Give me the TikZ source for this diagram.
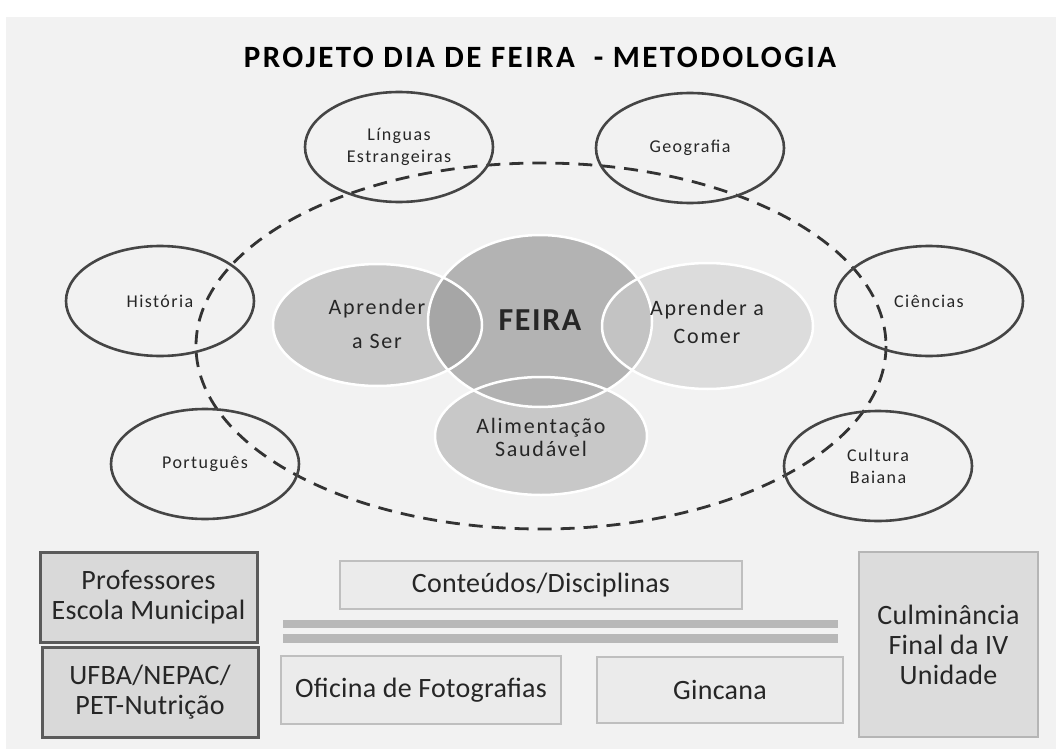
\documentclass[tikz,border=0pt]{standalone}
\usepackage{fontspec}
\setmainfont{Carlito}
\usetikzlibrary{shapes.geometric}
\definecolor{panel}{HTML}{F2F2F2}
\definecolor{txt}{HTML}{262626}
\definecolor{ring}{HTML}{454545}
\definecolor{dashc}{HTML}{333333}
\definecolor{serfill}{HTML}{C8C8C8}
\definecolor{feirafill}{HTML}{B3B3B3}
\definecolor{comerfill}{HTML}{DCDCDC}
\definecolor{alimfill}{HTML}{C8C8C8}
\definecolor{overser}{HTML}{A6A6A6}
\definecolor{overcomer}{HTML}{C3C3C3}
\definecolor{overalim}{HTML}{B1B1B1}
\definecolor{darkfill}{HTML}{D9D9D9}
\definecolor{darkline}{HTML}{5A5A5A}
\definecolor{lightfill}{HTML}{EBEBEB}
\definecolor{lightline}{HTML}{BFBFBF}
\definecolor{culmfill}{HTML}{DCDCDC}
\definecolor{culmline}{HTML}{B5B5B5}
\definecolor{bargray}{HTML}{B8B8B8}
\begin{document}
\begin{tikzpicture}[x=1pt,y=-1pt,
  subj/.style={ellipse, draw=ring, line width=2.6pt, inner sep=0pt,
    minimum width=188pt, minimum height=110pt, align=center, text=txt,
    font=\fontsize{18}{22}\selectfont\addfontfeature{LetterSpace=8}},
  venntext/.style={align=center, text=txt,
    font=\fontsize{22}{23}\selectfont\addfontfeature{LetterSpace=8}},
  boxfont/.style={align=center, text=txt, inner sep=0pt,
    font=\fontsize{28}{30}\selectfont\addfontfeature{LetterSpace=1}},
  darkbox/.style={boxfont, draw=darkline, fill=darkfill, line width=3pt},
  lightbox/.style={boxfont, draw=lightline, fill=lightfill, line width=2.5pt},
  culmbox/.style={boxfont, draw=culmline, fill=culmfill, line width=2.5pt},
  vennline/.style={draw=white, line width=2.5pt}
]
\useasboundingbox (0,0) rectangle (1060,749);
\fill[panel] (6,17) rectangle (1056,749);

% title
\node[font=\bfseries\fontsize{31}{34}\selectfont\addfontfeature{LetterSpace=8}, text=black] (title) at (540,57)
  {PROJETO DIA DE FEIRA\ \ - METODOLOGIA};

% dashed ring
\draw[dashc, line width=2.8pt, dash pattern=on 14pt off 9pt]
  (541,346) ellipse [x radius=345, y radius=183];

% subject ellipses
\node[subj] (linguas) at (399,147) {Línguas\\Estrangeiras};
\node[subj] (geo) at (690,148) {Geografia};
\node[subj] (hist) at (160,301) {História};
\node[subj] (cien) at (929,301) {Ciências};
\node[subj] (port) at (205,464) {Português};
\node[subj] (cult) at (878,466) {Cultura\\Baiana};

% Venn
\fill[serfill] (377.5,325) ellipse [x radius=104.5, y radius=61];
\fill[feirafill] (540,321) ellipse [x radius=112, y radius=86];
\fill[comerfill] (707.5,326) ellipse [x radius=105.5, y radius=63];
\fill[alimfill] (541,436) ellipse [x radius=106, y radius=59];
\begin{scope}
  \clip (540,321) ellipse [x radius=112, y radius=86];
  \fill[overser] (377.5,325) ellipse [x radius=104.5, y radius=61];
  \fill[overcomer] (707.5,326) ellipse [x radius=105.5, y radius=63];
  \fill[overalim] (541,436) ellipse [x radius=106, y radius=59];
\end{scope}
\path[vennline] (377.5,325) ellipse [x radius=104.5, y radius=61];
\path[vennline] (540,321) ellipse [x radius=112, y radius=86];
\path[vennline] (707.5,326) ellipse [x radius=105.5, y radius=63];
\path[vennline] (541,436) ellipse [x radius=106, y radius=59];

\node[venntext, font=\fontsize{22}{34}\selectfont\addfontfeature{LetterSpace=8}] (ser) at (377,324) {Aprender\\a Ser};
\node[font=\bfseries\fontsize{32}{36}\selectfont\addfontfeature{LetterSpace=5}, text=txt] (feira) at (540,320) {FEIRA};
\node[venntext, font=\fontsize{22}{28}\selectfont\addfontfeature{LetterSpace=8}] (comer) at (707,322) {Aprender a\\Comer};
\node[venntext] (alim) at (541,437) {Alimentação\\Saudável};

% bottom section
\node[darkbox, minimum width=217pt, minimum height=90pt] (prof) at (148.5,597) {Professores\\Escola Municipal};
\node[darkbox, minimum width=216pt, minimum height=90pt] (ufba) at (150,692) {UFBA/NEPAC/\\PET-Nutrição};
\node[lightbox, minimum width=402pt, minimum height=48pt] (cont) at (541,585) {Conteúdos/Disciplinas};
\fill[bargray] (283,620) rectangle (838,628);
\fill[bargray] (283,634) rectangle (838,643);
\node[lightbox, minimum width=280pt, minimum height=68pt] (ofic) at (421,690) {Oficina de Fotografias};
\node[lightbox, minimum width=246pt, minimum height=66pt] (ginc) at (720,690) {Gincana};
\node[culmbox, minimum width=179pt, minimum height=185pt] (culm) at (948.5,644.5) {Culminância\\Final da IV\\Unidade};
\end{tikzpicture}
\end{document}
